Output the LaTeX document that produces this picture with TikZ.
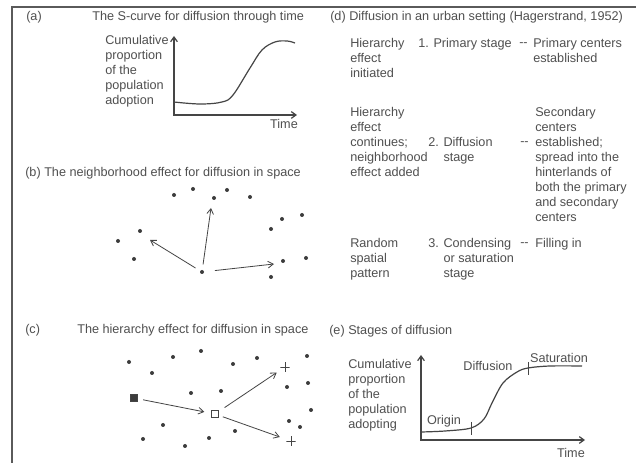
\documentclass[tikz,border=0pt]{standalone}
\usepackage{fontspec}
\setmainfont{Liberation Sans}
\usetikzlibrary{arrows.meta}
\definecolor{txtc}{HTML}{505050}
\definecolor{linec}{HTML}{454545}
\definecolor{framec}{HTML}{5a5a5a}
\definecolor{dotc}{HTML}{3c3c3c}
\tikzset{
  lbl/.style={font=\fontsize{9.5}{11.25}\selectfont, text=txtc, inner sep=0pt, anchor=west},
  blk/.style={font=\fontsize{9.5}{11.25}\selectfont, text=txtc, inner sep=0pt, align=left, anchor=north west, execute at begin node={\vphantom{H}}},
  ctr/.style={font=\fontsize{9.5}{11.25}\selectfont, text=txtc, inner sep=0pt},
  axis/.style={draw=linec, line width=0.9pt, {Straight Barb[length=3.5pt,width=5pt]}-{Straight Barb[length=3.5pt,width=5pt]}},
  curve/.style={draw=linec, line width=0.9pt},
  arr/.style={draw=linec, line width=0.6pt, -{Straight Barb[length=4pt,width=5pt]}},
  dotn/.style={circle, fill=dotc, inner sep=0pt, minimum size=3pt},
  framel/.style={draw=framec, line width=1.5pt},
  tick/.style={draw=linec, line width=0.7pt},
  plusn/.style={inner sep=0pt, minimum size=7pt, path picture={\draw[linec, line width=0.7pt] (path picture bounding box.north) -- (path picture bounding box.south) (path picture bounding box.west) -- (path picture bounding box.east);}},
}
\begin{document}
\begin{tikzpicture}[x=0.75pt,y=-0.75pt]
\useasboundingbox (0,0) rectangle (636,463);
\fill[white] (0,0) rectangle (636,463);
% frame
\coordinate (f1) at (12,463);
\coordinate (f2) at (12,7);
\coordinate (f3) at (636,7);
\draw[framel] (f1) -- (f2) -- (f3);

% ---------- (a)
\node[lbl] (la) at (26,17) {(a)};
\node[lbl] (ta) at (92,17) {The S-curve for diffusion through time};
\node[blk] (ya) at (105,35.5) {Cumulative\\proportion\\of the\\population\\adoption};
\coordinate (ao) at (174,115);
\coordinate (ay) at (174,36);
\coordinate (ax) at (297,115);
\draw[axis] (ay) -- (ao) -- (ax);
\node[ctr] (tia) at (284,124) {Time};
\draw[curve] plot[smooth, tension=0.6] coordinates {(174,102) (200,104) (222,102) (233,95) (250,68) (262,50) (275,42) (287,41) (295,43)};

% ---------- (b)
\node[lbl] (lb) at (25,173) {(b) The neighborhood effect for diffusion in space};
\foreach \px/\py [count=\i] in {174/195,193/189,214/198,227/190,250/197,282/219,302/215,271/229,140/231,118/241,134/259,283/261,306/258,271/277}
  \node[dotn] (bd\i) at (\px,\py) {};
\node[dotn] (b0) at (202,272) {};
\coordinate (bt1) at (150,240);
\coordinate (bt2) at (211,208);
\coordinate (bt3) at (274,264);
\draw[arr, shorten <=4pt] (b0) -- (bt1);
\draw[arr, shorten <=4pt] (b0) -- (bt2);
\draw[arr, shorten <=8pt] (b0) -- (bt3);

% ---------- (c)
\node[lbl] (lc) at (25,330) {(c)};
\node[lbl] (tc) at (77,330) {The hierarchy effect for diffusion in space};
\foreach \px/\py [count=\i] in {129/362,173/357,201/351,152/373,233/364,257/358,307/356,191/393,221/391,287/387,308/383,311/410,163/425,143/439,185/446,209/438,235/431,289/421,300/427}
  \node[dotn] (cd\i) at (\px,\py) {};
\node[draw=linec, fill=dotc, inner sep=0pt, minimum size=5.5pt] (sq1) at (134,398) {};
\node[draw=linec, fill=white, line width=0.6pt, inner sep=0pt, minimum size=5.5pt] (sq2) at (215,414) {};
\node[plusn] (p1) at (285,367) {};
\node[plusn] (p2) at (291,441) {};
\draw[arr, shorten <=4pt, shorten >=5pt] (sq1) -- (sq2);
\draw[arr, shorten <=5pt, shorten >=3pt] (sq2) -- (p1);
\draw[arr, shorten <=3pt, shorten >=5pt] (sq2) -- (p2);

% ---------- (d)
\node[lbl] (ld) at (330,17) {(d) Diffusion in an urban setting (Hagerstrand, 1952)};
\node[blk] (d11) at (350,38) {Hierarchy\\effect\\initiated};
\node[blk] (d12) at (418,38) {1. Primary stage};
\node[blk] (d1s) at (519,38) {-{}-};
\node[blk] (d13) at (533,38) {Primary centers\\established};
\node[blk] (d21) at (350,107) {Hierarchy\\effect\\continues;\\neighborhood\\effect added};
\node[blk] (d22) at (428,137) {2. Diffusion\\\hphantom{2. }stage};
\node[blk] (d2s) at (520,137) {-{}-};
\node[blk] (d23) at (535,107) {Secondary\\centers\\established;\\spread into the\\hinterlands of\\both the primary\\and secondary\\centers};
\node[blk] (d31) at (350,238) {Random\\spatial\\pattern};
\node[blk] (d32) at (428,238) {3. Condensing\\\hphantom{3. }or saturation\\\hphantom{3. }stage};
\node[blk] (d3s) at (520,238) {-{}-};
\node[blk] (d33) at (535,238) {Filling in};

% ---------- (e)
\node[lbl] (le) at (329,331) {(e) Stages of diffusion};
\node[blk] (ye) at (348,359.5) {Cumulative\\proportion\\of the\\population\\adopting};
\coordinate (eo) at (421,440);
\coordinate (ey) at (421,355);
\coordinate (ex) at (585,440);
\draw[axis] (ey) -- (eo) -- (ex);
\node[ctr] (tie) at (571,453) {Time};
\draw[curve] plot[smooth, tension=0.55] coordinates {(421,432) (445,431) (471,428) (484,419) (492,403) (503,383) (517,372) (528,368) (550,366) (582,366)};
\coordinate (k1a) at (471,422);
\coordinate (k1b) at (471,435);
\coordinate (k2a) at (528,362);
\coordinate (k2b) at (528,375);
\draw[tick] (k1a) -- (k1b);
\draw[tick] (k2a) -- (k2b);
\node[ctr] (orig) at (444,421) {Origin};
\node[ctr] (diff) at (488,366) {Diffusion};
\node[ctr] (satu) at (559,358) {Saturation};
\end{tikzpicture}
\end{document}
